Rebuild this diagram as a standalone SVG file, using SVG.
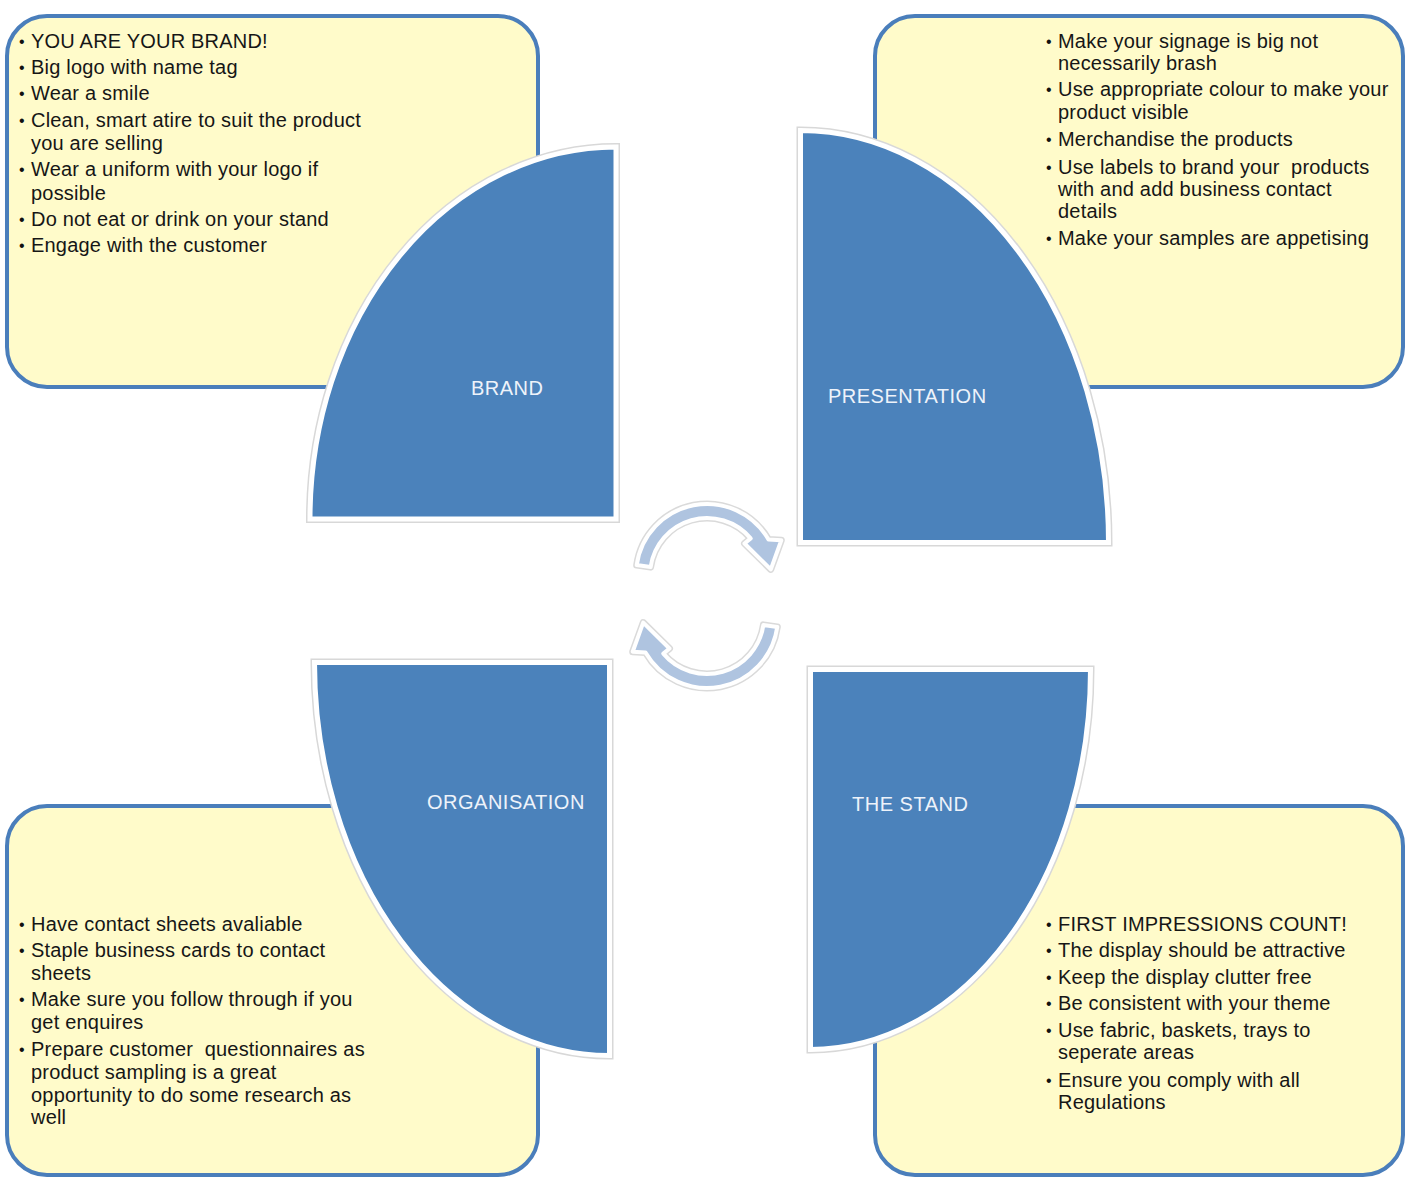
<svg xmlns="http://www.w3.org/2000/svg" width="1405" height="1185" viewBox="0 0 1405 1185">
<style>
.box{fill:#FFFBCA;stroke:#4A7EBB;stroke-width:4}
.qo{fill:none;stroke:#D8D8D8;stroke-width:8}
.q{fill:#4B82BB;stroke:#FFFFFF;stroke-width:5}
.lbl{font-family:"Liberation Sans",Arial,sans-serif;font-size:20px;fill:#EEF3FA;letter-spacing:0.5px}
.t{font-family:"Liberation Sans",Arial,sans-serif;font-size:20px;fill:#161616;letter-spacing:0.2px}
.b{font-family:"Liberation Sans",Arial,sans-serif;font-size:16px;fill:#111111}
.ao{fill:none;stroke:#DADADA;stroke-width:7;stroke-linejoin:round}
.a{fill:#AFC4E0;stroke:#FFFFFF;stroke-width:4;stroke-linejoin:round}
</style>
<defs>
<path id="arr" d="M636.7,565.1 A71,71 0 0 1 768.5,539.5 L781.3,540.3 L770.8,569.4 L744.5,543.5 L750.7,538.4 A57,57 0 0 0 650.6,567.1 Z"/>
</defs>
<rect width="1405" height="1185" fill="#FFFFFF"/>

<g id="box-brand">
<rect class="box" x="7" y="16" width="531" height="371" rx="40"/>
<g class="b"><text x="19" y="47">•</text><text x="19" y="73">•</text><text x="19" y="99">•</text><text x="19" y="126">•</text><text x="19" y="175">•</text><text x="19" y="225">•</text><text x="19" y="251">•</text></g>
<g class="t">
<text x="31" y="48">YOU ARE YOUR BRAND!</text>
<text x="31" y="74">Big logo with name tag</text>
<text x="31" y="100">Wear a smile</text>
<text x="31" y="127">Clean, smart atire to suit the product</text>
<text x="31" y="150">you are selling</text>
<text x="31" y="176">Wear a uniform with your logo if</text>
<text x="31" y="200">possible</text>
<text x="31" y="226">Do not eat or drink on your stand</text>
<text x="31" y="252">Engage with the customer</text>
</g>
</g>

<g id="box-presentation">
<rect class="box" x="875" y="16" width="528" height="371" rx="40"/>
<g class="b"><text x="1046" y="47">•</text><text x="1046" y="95">•</text><text x="1046" y="145">•</text><text x="1046" y="173">•</text><text x="1046" y="244">•</text></g>
<g class="t">
<text x="1058" y="48">Make your signage is big not</text>
<text x="1058" y="70">necessarily brash</text>
<text x="1058" y="96">Use appropriate colour to make your</text>
<text x="1058" y="119">product visible</text>
<text x="1058" y="146">Merchandise the products</text>
<text x="1058" y="174">Use labels to brand your&#160; products</text>
<text x="1058" y="196">with and add business contact</text>
<text x="1058" y="218">details</text>
<text x="1058" y="245">Make your samples are appetising</text>
</g>
</g>

<g id="box-organisation">
<rect class="box" x="7" y="806" width="531" height="369" rx="40"/>
<g class="b"><text x="19" y="930">•</text><text x="19" y="956">•</text><text x="19" y="1005">•</text><text x="19" y="1055">•</text></g>
<g class="t">
<text x="31" y="931">Have contact sheets avaliable</text>
<text x="31" y="957">Staple business cards to contact</text>
<text x="31" y="980">sheets</text>
<text x="31" y="1006">Make sure you follow through if you</text>
<text x="31" y="1029">get enquires</text>
<text x="31" y="1056">Prepare customer&#160; questionnaires as</text>
<text x="31" y="1079">product sampling is a great</text>
<text x="31" y="1102">opportunity to do some research as</text>
<text x="31" y="1124">well</text>
</g>
</g>

<g id="box-stand">
<rect class="box" x="875" y="806" width="528" height="369" rx="40"/>
<g class="b"><text x="1046" y="930">•</text><text x="1046" y="956">•</text><text x="1046" y="983">•</text><text x="1046" y="1009">•</text><text x="1046" y="1036">•</text><text x="1046" y="1086">•</text></g>
<g class="t">
<text x="1058" y="931">FIRST IMPRESSIONS COUNT!</text>
<text x="1058" y="957">The display should be attractive</text>
<text x="1058" y="984">Keep the display clutter free</text>
<text x="1058" y="1010">Be consistent with your theme</text>
<text x="1058" y="1037">Use fabric, baskets, trays to</text>
<text x="1058" y="1059">seperate areas</text>
<text x="1058" y="1087">Ensure you comply with all</text>
<text x="1058" y="1109">Regulations</text>
</g>
</g>

<g id="node-brand">
<path class="qo" d="M616,519 L310,519 A306,372 0 0 1 616,147 Z"/>
<path class="q" d="M616,519 L310,519 A306,372 0 0 1 616,147 Z"/>
<text class="lbl" x="471" y="395">BRAND</text>
</g>

<g id="node-presentation">
<path class="qo" d="M800.5,542.5 L800.5,130.5 A308,412 0 0 1 1108.5,542.5 Z"/>
<path class="q" d="M800.5,542.5 L800.5,130.5 A308,412 0 0 1 1108.5,542.5 Z"/>
<text class="lbl" x="828" y="403">PRESENTATION</text>
</g>

<g id="node-organisation">
<path class="qo" d="M609.5,662.5 L314.5,662.5 A295,393 0 0 0 609.5,1055.5 Z"/>
<path class="q" d="M609.5,662.5 L314.5,662.5 A295,393 0 0 0 609.5,1055.5 Z"/>
<text class="lbl" x="427" y="809">ORGANISATION</text>
</g>

<g id="node-stand">
<path class="qo" d="M810.5,669.5 L1090.5,669.5 A280,380 0 0 1 810.5,1049.5 Z"/>
<path class="q" d="M810.5,669.5 L1090.5,669.5 A280,380 0 0 1 810.5,1049.5 Z"/>
<text class="lbl" x="852" y="811">THE STAND</text>
</g>

<g id="connectors">
<use href="#arr" class="ao"/>
<use href="#arr" class="a"/>
<g transform="rotate(180 707 596)">
<use href="#arr" class="ao"/>
<use href="#arr" class="a"/>
</g>
</g>
</svg>
